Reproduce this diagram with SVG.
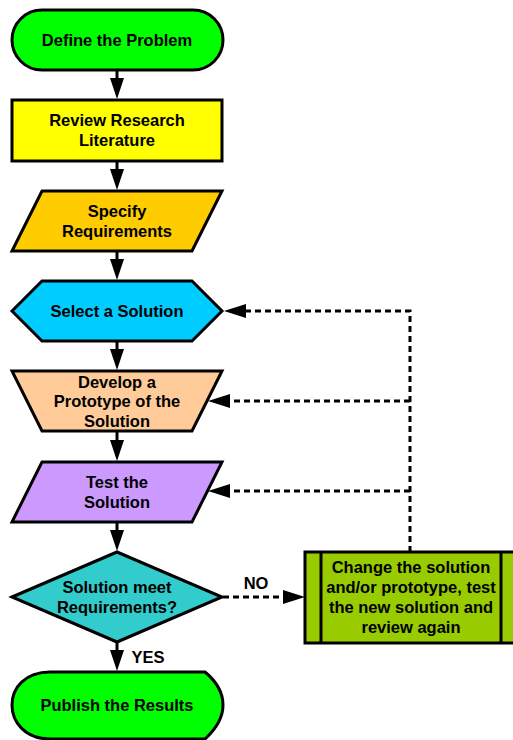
<svg xmlns="http://www.w3.org/2000/svg" width="513" height="740" viewBox="0 0 513 740">
<defs>
<style>
.n{stroke:#000;stroke-width:3;stroke-linejoin:miter}
.t{font-family:"Liberation Sans",Arial,sans-serif;font-weight:bold;font-size:16.5px;fill:#000;text-anchor:middle;dominant-baseline:central}
.s{stroke:#000;stroke-width:3;fill:none}
.d{stroke:#000;stroke-width:3;fill:none;stroke-dasharray:6,4}
.h{fill:#000}
</style>
</defs>
<rect width="513" height="740" fill="#fff"/>
<g id="connectors">
<line class="s" x1="117" y1="70" x2="117" y2="80"/>
<polygon class="h" points="110,78 124,78 117,99"/>
<line class="s" x1="117" y1="161" x2="117" y2="171"/>
<polygon class="h" points="110,169 124,169 117,190"/>
<line class="s" x1="117" y1="251" x2="117" y2="261"/>
<polygon class="h" points="110,259 124,259 117,280"/>
<line class="s" x1="117" y1="341" x2="117" y2="351"/>
<polygon class="h" points="110,349 124,349 117,370"/>
<line class="s" x1="117" y1="431" x2="117" y2="442"/>
<polygon class="h" points="110,440 124,440 117,461"/>
<line class="s" x1="117" y1="522" x2="117" y2="532"/>
<polygon class="h" points="110,530 124,530 117,551"/>
<line class="s" x1="117" y1="642" x2="117" y2="652"/>
<polygon class="h" points="110,650 124,650 117,671"/>
<polyline class="d" points="410,552 410,311 246,311"/>
<polygon class="h" points="224,311 246,304 246,318"/>
<line class="d" x1="410" y1="401" x2="230" y2="401"/>
<polygon class="h" points="208,401 230,394 230,408"/>
<line class="d" x1="410" y1="491" x2="230" y2="491"/>
<polygon class="h" points="208,491 230,484 230,498"/>
<line class="d" x1="223" y1="597" x2="284" y2="597"/>
<polygon class="h" points="305,597 283,590 283,604"/>
<text class="t" x="256" y="583">NO</text>
<text class="t" x="148" y="657">YES</text>
</g>
<g id="define">
<rect class="n" x="12" y="10" width="211" height="60" rx="30" ry="30" fill="#00FF00"/>
<text class="t" x="117" y="40">Define the Problem</text>
</g>
<g id="review">
<rect class="n" x="12" y="100" width="210" height="61" fill="#FFFF00"/>
<text class="t" x="117" y="120">Review Research</text>
<text class="t" x="117" y="140">Literature</text>
</g>
<g id="specify">
<polygon class="n" points="42,191 222,191 192,251 12,251" fill="#FFCC00"/>
<text class="t" x="117" y="211">Specify</text>
<text class="t" x="117" y="231">Requirements</text>
</g>
<g id="select">
<polygon class="n" points="12,311 42,281 192,281 222,311 192,341 42,341" fill="#00CCFF"/>
<text class="t" x="117" y="311">Select a Solution</text>
</g>
<g id="develop">
<polygon class="n" points="12,371 222,371 192,431 42,431" fill="#FFCC99"/>
<text class="t" x="117" y="382">Develop a</text>
<text class="t" x="117" y="401">Prototype of the</text>
<text class="t" x="117" y="421">Solution</text>
</g>
<g id="test">
<polygon class="n" points="42,462 222,462 192,522 12,522" fill="#CC99FF"/>
<text class="t" x="117" y="482">Test the</text>
<text class="t" x="117" y="502">Solution</text>
</g>
<g id="decision">
<polygon class="n" points="12,597 117,552 222,597 117,642" fill="#33CCCC"/>
<text class="t" x="117" y="587">Solution meet</text>
<text class="t" x="117" y="607">Requirements?</text>
</g>
<g id="publish">
<path class="n" d="M50,672 H205 C217,682 223,692 223,705 C223,718 217,728 205,739 H50 C25,739 12,722 12,705 C12,688 25,672 50,672 Z" fill="#00FF00"/>
<text class="t" x="117" y="705">Publish the Results</text>
</g>
<g id="change">
<rect class="n" x="305" y="552" width="212" height="91" fill="#99CC00"/>
<line class="s" x1="321" y1="552" x2="321" y2="643"/>
<line class="s" x1="501" y1="552" x2="501" y2="643"/>
<text class="t" x="411" y="567">Change the solution</text>
<text class="t" x="411" y="587">and/or prototype, test</text>
<text class="t" x="411" y="607">the new solution and</text>
<text class="t" x="411" y="627">review again</text>
</g>
</svg>
